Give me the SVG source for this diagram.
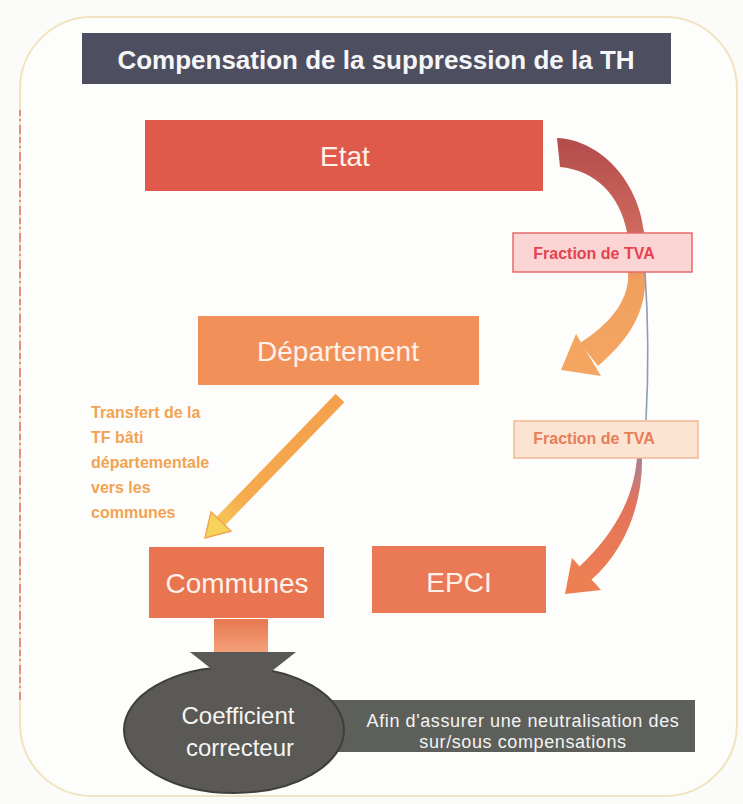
<svg xmlns="http://www.w3.org/2000/svg" width="743" height="804" viewBox="0 0 743 804">
  <defs>
    <style>
      .node-text { font-family: "Liberation Sans", Arial, sans-serif; font-size: 28px; fill: #fdf1ea; text-anchor: middle; }
      .label-text { font-family: "Liberation Sans", Arial, sans-serif; font-size: 16px; font-weight: bold; text-anchor: middle; }
      .note-text { font-family: "Liberation Sans", Arial, sans-serif; font-size: 16px; font-weight: bold; fill: #f2a352; }
      .dark-text { font-family: "Liberation Sans", Arial, sans-serif; fill: #f4f4f2; text-anchor: middle; }
    </style>
    <linearGradient id="gArc1" x1="0" y1="137" x2="0" y2="375" gradientUnits="userSpaceOnUse">
      <stop offset="0" stop-color="#b24b4b"/>
      <stop offset="0.4" stop-color="#cf6a5e"/>
      <stop offset="0.6" stop-color="#f0a05e"/>
      <stop offset="1" stop-color="#f5a662"/>
    </linearGradient>
    <linearGradient id="gArc2" x1="0" y1="457" x2="0" y2="592" gradientUnits="userSpaceOnUse">
      <stop offset="0" stop-color="#a88294"/>
      <stop offset="0.35" stop-color="#e4735a"/>
      <stop offset="1" stop-color="#ee7f52"/>
    </linearGradient>
    <linearGradient id="gDiag" x1="340" y1="398" x2="205" y2="538" gradientUnits="userSpaceOnUse">
      <stop offset="0" stop-color="#f4a04c"/>
      <stop offset="0.7" stop-color="#f5aa4e"/>
      <stop offset="1" stop-color="#f7d45a"/>
    </linearGradient>
    <linearGradient id="gDown" x1="0" y1="619" x2="0" y2="652" gradientUnits="userSpaceOnUse">
      <stop offset="0" stop-color="#e8784f"/>
      <stop offset="1" stop-color="#f2a07a"/>
    </linearGradient>
  </defs>

  <!-- page background and rounded frame -->
  <rect x="0" y="0" width="743" height="804" fill="#fbfbf9"/>
  <rect x="20" y="17" width="717" height="779" rx="72" ry="72" fill="#fdfdfb" stroke="#f1e3bd" stroke-width="2"/>
  <path d="M20,110 L20,700" stroke="#d4405a" stroke-width="1.5" stroke-dasharray="6 3 2 4 9 3" opacity="0.7" fill="none"/>

  <!-- title -->
  <g id="title">
    <rect x="82" y="33" width="589" height="51" fill="#4d4f60"/>
    <text x="376" y="69" font-family="Liberation Sans, Arial, sans-serif" font-size="26" font-weight="bold" fill="#f6f6f8" text-anchor="middle">Compensation de la suppression de la TH</text>
  </g>

  <!-- connectors -->
  <g id="connectors">
    <!-- Etat to Département: curved arrow -->
    <path d="M557,138 C600,140 638,180 644,232 L645,272 C648,314 626,342 598,366 L580,343 C610,324 630,300 628,272 L627,232 C620,195 595,170 560,167 Z" fill="url(#gArc1)"/>
    <polygon points="576,334 601,376 561,370" fill="#f4a560"/>
    <!-- thin link between the two labels -->
    <path d="M645,272 Q650,345 646,420" fill="none" stroke="#8e9db4" stroke-width="1.6"/>
    <!-- towards EPCI -->
    <path d="M642,457 C643,502 626,550 591,580 L579,567 C612,536 634,500 637,457 Z" fill="url(#gArc2)"/>
    <polygon points="572,558 601,590 565,594" fill="#ee7f52"/>
    <!-- Département to Communes -->
    <line x1="340" y1="398" x2="219" y2="523" stroke="url(#gDiag)" stroke-width="12"/>
    <polygon points="231,531 211,512 205,538" fill="#f6d45c" stroke="#f3a650" stroke-width="1.5"/>
    <!-- Communes to coefficient -->
    <rect x="214" y="619" width="54" height="33" fill="url(#gDown)"/>
  </g>

  <!-- labels on the curved arrows -->
  <g id="label-tva-1">
    <rect x="513" y="233" width="179" height="39" fill="#fad5d3" stroke="#e66a6a" stroke-width="1.5"/>
    <text class="label-text" x="594" y="259" fill="#e6414f">Fraction de TVA</text>
  </g>
  <g id="label-tva-2">
    <rect x="514" y="421" width="184" height="37" fill="#fde3d2" stroke="#f2b696" stroke-width="1.5"/>
    <text class="label-text" x="594" y="444" fill="#e67e58">Fraction de TVA</text>
  </g>

  <!-- nodes -->
  <g id="etat">
    <rect x="145" y="120" width="398" height="71" fill="#e05a4b"/>
    <text class="node-text" x="345" y="166">Etat</text>
  </g>
  <g id="departement">
    <rect x="198" y="316" width="281" height="69" fill="#f2905a"/>
    <text class="node-text" x="338" y="361">Département</text>
  </g>
  <g id="transfert-note">
    <text class="note-text" x="91" y="418">Transfert de la</text>
    <text class="note-text" x="91" y="443">TF bâti</text>
    <text class="note-text" x="91" y="468">départementale</text>
    <text class="note-text" x="91" y="493">vers les</text>
    <text class="note-text" x="91" y="518">communes</text>
  </g>
  <g id="communes">
    <rect x="149" y="547" width="175" height="71" fill="#e8754f"/>
    <text class="node-text" x="237" y="593">Communes</text>
  </g>
  <g id="epci">
    <rect x="372" y="546" width="174" height="67" fill="#ea7a55"/>
    <text class="node-text" x="459" y="592">EPCI</text>
  </g>
  <g id="note-neutralisation">
    <rect x="330" y="700" width="365" height="52" fill="#5d5f5b"/>
    <text class="dark-text" x="523" y="727" font-size="18" letter-spacing="0.6">Afin d'assurer une neutralisation des</text>
    <text class="dark-text" x="523" y="748" font-size="18" letter-spacing="0.6">sur/sous compensations</text>
  </g>
  <g id="coefficient">
    <ellipse cx="234" cy="730" rx="110" ry="63" fill="#5b5955" stroke="#3f3e3b" stroke-width="2"/>
    <polygon points="190,652 296,652 243,694" fill="#5b5955"/>
    <text class="dark-text" x="238" y="724" font-size="24">Coefficient</text>
    <text class="dark-text" x="240" y="756" font-size="24">correcteur</text>
  </g>
</svg>
